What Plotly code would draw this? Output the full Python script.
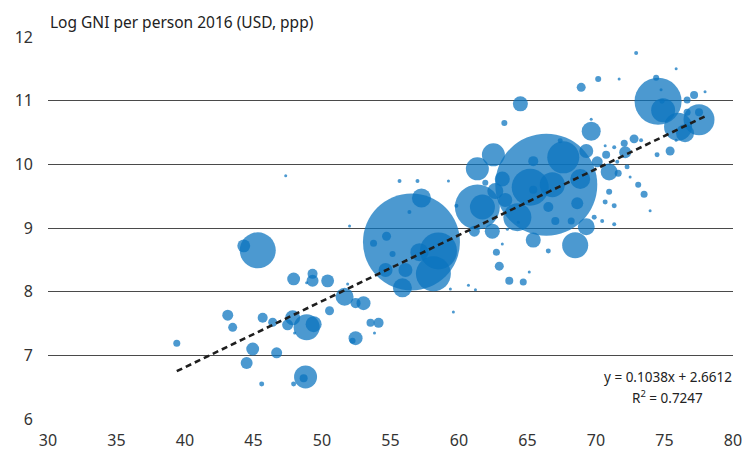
import plotly.graph_objects as go

# Healthy life expectancy (x), log GNI per person 2016 (y), population in millions (bubble size)
life_exp = [66.37, 56.53, 74.53, 77.52, 45.31, 44.29, 48.88, 49.39, 48.80, 48.66,
            58.13, 58.50, 57.11, 61.34, 61.71, 62.51, 61.34, 57.26, 62.43, 61.12,
            55.87, 54.64, 56.09, 54.71, 53.76, 55.15, 56.38, 65.42, 62.73, 62.94,
            63.67, 64.69, 55.66, 56.97, 59.23, 52.01, 51.87, 59.81, 61.92, 51.65,
            53.03, 52.45, 65.42, 65.42, 63.16, 62.65, 63.38, 64.26, 65.20, 66.81,
            67.61, 66.52, 67.03, 68.19, 68.63, 68.48, 66.52, 69.65, 68.85, 63.16,
            60.69, 61.20, 65.13, 64.33, 63.53, 67.39, 72.93, 75.85, 74.39, 70.16,
            68.92, 71.69, 74.75, 77.96, 77.16, 76.65, 74.82, 74.90, 77.52, 76.65,
            75.99, 76.50, 75.85, 75.41, 74.46, 69.65, 72.78, 73.29, 72.06, 72.13,
            71.33, 70.67, 70.74, 70.09, 69.29, 70.96, 71.62, 72.27, 71.55, 72.49,
            73.08, 73.51, 70.96, 70.67, 71.33, 69.87, 70.45, 71.33, 73.95, 69.29,
            64.48, 63.31, 47.93, 49.31, 49.31, 50.41, 48.88, 50.55, 43.12, 43.48,
            45.67, 46.40, 47.86, 47.49, 48.00, 39.40, 44.94, 44.50, 46.69, 45.60,
            47.93, 52.45, 52.23, 53.54, 54.13, 53.83, 47.35, 59.59, 59.37]
log_gni = [9.68, 8.78, 10.99, 10.70, 8.65, 8.72, 7.44, 7.49, 6.66, 6.64,
           8.28, 8.64, 8.62, 9.33, 9.33, 10.15, 9.93, 9.47, 8.95, 8.95,
           8.06, 8.34, 8.34, 8.87, 8.76, 8.59, 9.25, 8.81, 8.62, 8.40,
           8.17, 8.15, 9.74, 9.74, 9.74, 9.03, 8.12, 9.35, 9.71, 7.92,
           7.82, 7.82, 10.05, 9.60, 9.77, 9.58, 9.44, 9.17, 9.64, 9.68,
           10.11, 9.33, 9.11, 9.11, 9.39, 8.73, 8.64, 10.52, 9.77, 8.75,
           8.10, 8.03, 8.31, 9.09, 8.98, 10.37, 11.75, 11.50, 11.36, 11.34,
           11.21, 11.34, 11.17, 11.14, 11.09, 11.01, 10.99, 10.85, 10.82, 10.82,
           10.59, 10.49, 10.38, 10.21, 10.15, 10.71, 10.40, 10.38, 10.33, 10.19,
           10.27, 10.29, 10.15, 10.04, 10.21, 9.88, 9.86, 9.96, 10.04, 9.80,
           9.68, 9.53, 9.57, 9.41, 9.35, 9.17, 9.11, 9.06, 9.27, 9.02,
           10.95, 10.65, 8.20, 8.28, 8.17, 8.17, 8.14, 7.70, 7.63, 7.44,
           7.59, 7.52, 7.59, 7.48, 7.35, 7.19, 7.10, 6.88, 7.04, 6.55,
           6.55, 7.27, 7.23, 7.51, 7.51, 7.35, 9.82, 7.68, 8.04]
population = [1380, 1248, 293, 127, 172, 22, 90, 34, 70, 8.5,
              162, 182, 43, 268, 83, 70, 70, 48, 30, 16,
              48, 26, 26, 10.7, 6.5, 4.8, 2.1, 30, 6.5, 10.7,
              8.5, 6.5, 2.1, 2.1, 0.5, 1.2, 1.2, 2.1, 4.8, 43,
              26, 13.3, 13.3, 8.5, 30, 34, 26, 104, 182, 83,
              136, 13.3, 8.5, 6.5, 19, 90, 3.3, 48, 53, 0.5,
              0.5, 0.5, 0.5, 1.2, 0.5, 3.3, 2.1, 0.5, 4.8, 4.8,
              10.7, 0.3, 0.5, 0.3, 8.5, 6.5, 3.3, 76, 8.5, 6.5,
              104, 43, 1.2, 10.7, 3.3, 1.2, 10.7, 2.1, 6.5, 19,
              2.1, 1.2, 8.5, 16, 26, 38, 6.5, 3.3, 2.1, 0.5,
              4.8, 6.5, 4.8, 3.3, 3.3, 3.3, 2.1, 2.1, 0.3, 38,
              30, 4.8, 22, 13.3, 19, 22, 0.5, 10.7, 16, 10.7,
              13.3, 10.7, 30, 16, 1.2, 6.5, 22, 19, 16, 3.3,
              3.3, 26, 4.8, 8.5, 13.3, 0.5, 1.2, 1.2, 0.3]

# Trendline as printed on the chart
slope = 0.1038
intercept = 2.6612
r_squared = 0.7247

x_ticks = [30, 35, 40, 45, 50, 55, 60, 65, 70, 75, 80]
y_ticks = [6, 7, 8, 9, 10, 11, 12]

# draw large bubbles first so small ones stay visible
order = sorted(range(len(population)), key=lambda i: -population[i])
xs = [life_exp[i] for i in order]
ys = [log_gni[i] for i in order]
ps = [population[i] for i in order]

max_diam = 102
sizeref = 2 * max(population) / max_diam ** 2

fig = go.Figure()
fig.add_trace(go.Scatter(
    x=xs, y=ys, mode="markers",
    marker=dict(size=ps, sizemode="area", sizeref=sizeref, sizemin=1.5,
                color="rgb(9,115,190)", opacity=0.73, line=dict(width=0)),
    hoverinfo="skip", showlegend=False,
))

x0, x1 = min(life_exp), max(life_exp)
fig.add_trace(go.Scatter(
    x=[x0, x1], y=[slope * x0 + intercept, slope * x1 + intercept],
    mode="lines", line=dict(color="#1e1e1e", width=2.6, dash="6px,4px"),
    hoverinfo="skip", showlegend=False,
))

font_family = "'Noto Sans', sans-serif"
fig.update_layout(
    width=743, height=450,
    margin=dict(l=48, r=10, t=37, b=31, autoexpand=False),
    paper_bgcolor="white", plot_bgcolor="white",
    font=dict(family=font_family, size=16, color="#333333"),
    xaxis=dict(range=[30, 80], tickvals=x_ticks, showgrid=False, zeroline=False,
               showline=False, ticks="", ticklabelstandoff=10, automargin=False,
               tickfont=dict(size=16, color="#333333")),
    yaxis=dict(range=[6, 12], tickvals=y_ticks, showgrid=True, gridcolor="#4a4a4a",
               gridwidth=1.4, zeroline=False, showline=False, ticks="", automargin=False,
               ticklabelstandoff=14, tickfont=dict(size=16, color="#333333")),
    annotations=[
        dict(text="Log GNI per person 2016 (USD, ppp)", xref="paper", yref="paper",
             x=0, y=1, xanchor="left", yanchor="bottom", yshift=2, showarrow=False,
             font=dict(size=15.5, color="#222222")),
        dict(text=f"y = {slope}x + {intercept}",
             xref="paper", yref="paper", x=0.905, y=0.110, xanchor="center", yanchor="middle",
             showarrow=False, font=dict(size=13.5, color="#222222")),
        dict(text=f"R<sup>2</sup> = {r_squared}",
             xref="paper", yref="paper", x=0.905, y=0.058, xanchor="center", yanchor="middle",
             showarrow=False, font=dict(size=13.5, color="#222222")),
    ],
)

fig.write_html("out.html", config={"displayModeBar": False},
               post_script="document.body.style.margin='0';")
